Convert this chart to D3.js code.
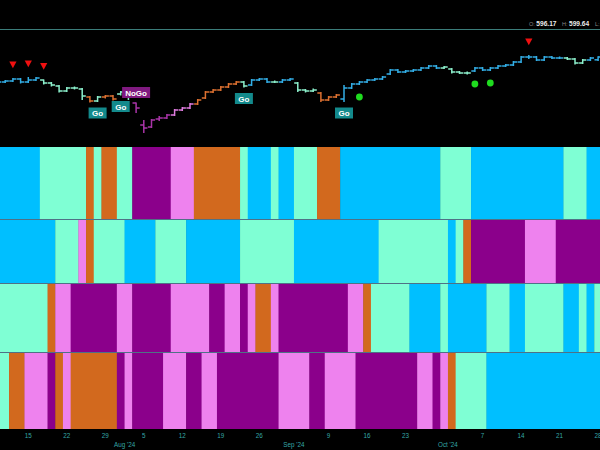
<!DOCTYPE html>
<html><head><meta charset="utf-8">
<script src="https://cdn.jsdelivr.net/npm/d3@7/dist/d3.min.js"></script>
<style>html,body{margin:0;padding:0;background:#000;overflow:hidden}svg{display:block}</style>
</head><body><svg id="c" width="600" height="450"></svg>
<script>
// ---- data ----
const dates = [
"2024-07-09","2024-07-10","2024-07-11","2024-07-12","2024-07-15","2024-07-16","2024-07-17","2024-07-18","2024-07-19",
"2024-07-22","2024-07-23","2024-07-24","2024-07-25","2024-07-26","2024-07-29","2024-07-30","2024-07-31",
"2024-08-01","2024-08-02","2024-08-05","2024-08-06","2024-08-07","2024-08-08","2024-08-09","2024-08-12","2024-08-13",
"2024-08-14","2024-08-15","2024-08-16","2024-08-19","2024-08-20","2024-08-21","2024-08-22","2024-08-23","2024-08-26",
"2024-08-27","2024-08-28","2024-08-29","2024-08-30",
"2024-09-03","2024-09-04","2024-09-05","2024-09-06","2024-09-09","2024-09-10","2024-09-11","2024-09-12","2024-09-13",
"2024-09-16","2024-09-17","2024-09-18","2024-09-19","2024-09-20","2024-09-23","2024-09-24","2024-09-25","2024-09-26",
"2024-09-27","2024-09-30",
"2024-10-01","2024-10-02","2024-10-03","2024-10-04","2024-10-07","2024-10-08","2024-10-09","2024-10-10","2024-10-11",
"2024-10-14","2024-10-15","2024-10-16","2024-10-17","2024-10-18","2024-10-21","2024-10-22","2024-10-23","2024-10-24",
"2024-10-25","2024-10-28"];

const opens = [573,574,575,577,574,576,576,573,570,565,568,567,559,555,559,560,562,565,553,531,
529,537,538,541,546,548,552,558,564,566,569,572,574,571,576,577,574,574,576,573,
566,565,563,556,559,557,568,572,574,576,577,582,586,584,585,586,588,590,588,587,
584,583,585,588,586,588,590,591,594,599,599,596,599,598,598,597,593,596,596.17];
const highs = [575.5,576,578,578,579,579,576.5,574,571,569,569.5,568,560,560,561,561,565,569,553.5,536,
537,540,542,547,549,553,557,565,567,570,573,575,575,577,578,578,575.5,577,578,574,
567,567.5,564,560,562,571,573,575,577,578,580,587,587,586,587,589,591,591,590,588,
585,584.5,589,589,589,591,592,595,600,601,600,600,600,599.5,599,598,597,599,599.64];
const lows = [572,573,574,572.5,573,575,571.5,569.5,563.5,564,566.5,556,553.5,554,557.5,555.5,560.5,556,543,523,
528,535,537,540,545,547,551,557,563,565,568,571,568.5,570,575,573,573,573,575,564,
563.5,564,554,555,558,554,567,571,573,575,576,581,583,583,584,585,587,587,587,582.5,
582,581.5,584,585,585,587,589,590,593,597,595,595,597,597,596,591.5,592,595,595];
const closes = [574,575,577,574,576,578,573,571,565,568,568,560,555,559,560,557,564,559,548,528,
536,538,541,546,548,552,556,564,566,569,572,574,570,576,577,574,574,576,577,566,
565,566,556,559,561,568,572,574,576,577,579,586,584,585,586,588,590,588,589,584,
583,583,588,586,588,590,591,594,599,599,596,599,598,598,597,593,596,598,599];

// GoNoGo states per day: B = Go (strong), A = Go (weak), O = amber, V = NoGo (weak), P = NoGo (strong)
const trendPrice = "BBBBBBAAAAAAOAOOAAPPPPPVVVOOOOOOABBBABBAAAOOOBBBBBBBBBBBBBAAAABBBBBBBBBBBBAAABB".split("");
const trendRow2  = "BBBBBBBBAAAVOAAAABBBBAAAABBBBBBBAAAAAAABBBBBBBBBBBAAAAAAAAABAOPPPPPPPVVVVPPPPPP".split("");
const trendRow3  = "AAAAAAAOVVPPPPPPVVPPPPPVVVVVPPVVPVOOVPPPPPPPPPVVOAAAAABBBBABBBBBAAABBAAAAABBABA".split("");
const trendRow4  = "AAOOVVVPOVOOOOOOPVPPPPVVVPPVVPPPPPPPPVVVVPPVVVVPPPPPPPPVVPVOAAAABBBBBBBBBBBBBBB".split("");
const bandRows = [trendPrice, trendRow2, trendRow3, trendRow4];

const sellTriangles = ["2024-07-11","2024-07-15","2024-07-17","2024-10-15"];
const buyDots = ["2024-09-13","2024-10-04","2024-10-08"];
const goLabels = ["2024-07-26","2024-07-31","2024-08-22","2024-09-11"];
const noGoLabels = ["2024-08-02"];

const dayTicks = ["2024-07-15","2024-07-22","2024-07-29","2024-08-05","2024-08-12","2024-08-19","2024-08-26",
  "2024-09-09","2024-09-16","2024-09-23","2024-10-07","2024-10-14","2024-10-21","2024-10-28"];
const monthTicks = ["2024-08-01","2024-09-03","2024-10-01"];
const monthLabels = ["Aug '24","Sep '24","Oct '24"];

const header = [["O:", "596.17"], ["H:", "599.64"], ["L:", ""]];

// ---- styles ----
const palette = {B:"#00bfff", A:"#7fffd4", O:"#d2691e", V:"#ee82ee", P:"#8b008b"};
const barPalette = {B:"#33aee6", A:"#8cf0cc", O:"#dc7030", V:"#e07ce0", P:"#aa34a8"};
const rowBounds = [147, 219.5, 283.5, 352.5, 429];
const font = "'Liberation Sans', Arial, sans-serif";

// ---- chart ----
const svg = d3.select("#c");
svg.append("rect").attr("width",600).attr("height",450).attr("fill","#000");

const x = d3.scaleBand().domain(dates).range([-6.35, 601.95]).padding(0);
const bw = x.bandwidth();
const cx = d => x(d) + bw/2;
const y = d3.scaleLinear().domain([511, 626]).range([145, 30]);
const idx = d => dates.indexOf(d);

// header
svg.append("line").attr("x1",0).attr("x2",600).attr("y1",29.5).attr("y2",29.5)
  .attr("stroke","#3b7d7a").attr("stroke-width",1);
const hx = [529, 562, 595];
header.forEach((h,i)=>{
  const t = svg.append("text").attr("x",hx[i]).attr("y",25.8).attr("font-family",font);
  t.append("tspan").attr("font-size",5.5).attr("fill","#8a8a8a").text(h[0]+" ");
  t.append("tspan").attr("font-size",6.6).attr("font-weight","bold").attr("fill","#ececec").text(h[1]);
});

// bands: merge consecutive equal states into runs
bandRows.forEach((row, r)=>{
  const runs = [];
  row.forEach((s,i)=>{
    if (runs.length && runs[runs.length-1].s === s) runs[runs.length-1].end = dates[i];
    else runs.push({s, start: dates[i], end: dates[i]});
  });
  svg.append("g").selectAll("rect").data(runs).join("rect")
    .attr("x", d => x(d.start)).attr("width", d => x(d.end) + bw - x(d.start) + 0.4)
    .attr("y", rowBounds[r]).attr("height", rowBounds[r+1] - rowBounds[r])
    .attr("fill", d => palette[d.s]);
});
rowBounds.slice(1,4).forEach(b=>{
  svg.append("line").attr("x1",0).attr("x2",600).attr("y1",b).attr("y2",b)
    .attr("stroke","#4f7186").attr("stroke-width",1);
});

// price bars
const bars = svg.append("g").attr("stroke-width",1.5).attr("fill","none");
dates.forEach((d,i)=>{
  const c = cx(d), col = barPalette[trendPrice[i]];
  bars.append("line").attr("x1",c).attr("x2",c).attr("y1",y(highs[i])).attr("y2",y(lows[i])).attr("stroke",col);
  bars.append("line").attr("x1",c-3.6).attr("x2",c).attr("y1",y(opens[i])).attr("y2",y(opens[i])).attr("stroke",col);
  bars.append("line").attr("x1",c).attr("x2",c+3.6).attr("y1",y(closes[i])).attr("y2",y(closes[i])).attr("stroke",col);
});

// sell triangles
svg.append("g").selectAll("path").data(sellTriangles).join("path")
  .attr("d", d => { const c = cx(d), t = y(highs[idx(d)]) - 16.5;
     return `M${c-3.6},${t}L${c+3.6},${t}L${c},${t+6.8}Z`; })
  .attr("fill","#f01010");

// buy dots
svg.append("g").selectAll("circle").data(buyDots).join("circle")
  .attr("cx", d => cx(d)).attr("cy", d => y(lows[idx(d)]) + 12)
  .attr("r", 3.4).attr("fill","#1fdc1f");

// Go / NoGo labels
const lab = (list, txt, w, fill, above) => {
  const g = svg.append("g").selectAll("g").data(list).join("g")
    .attr("transform", d => {
      const i = idx(d);
      const cy = above ? y(highs[i]) - 10 : y(lows[i]) + 11;
      return `translate(${cx(d)},${cy})`;
    });
  g.append("rect").attr("x",-w/2).attr("y",-5.5).attr("width",w).attr("height",11).attr("fill",fill);
  g.append("text").attr("text-anchor","middle").attr("y",3).attr("font-family",font)
    .attr("font-size",8).attr("font-weight","bold").attr("fill","#ffffff").text(txt);
};
lab(goLabels, "Go", 18, "#138a8c", false);
lab(noGoLabels, "NoGo", 28, "#801a80", true);

// axes
const dayAxis = d3.axisBottom(x).tickValues(dayTicks).tickSize(0).tickPadding(5)
  .tickFormat(d => String(+d.slice(8)));
const ga = svg.append("g").attr("transform","translate(0,429)").call(dayAxis);
const monthAxis = d3.axisBottom(x).tickValues(monthTicks).tickSize(0).tickPadding(13.5)
  .tickFormat(d => monthLabels[monthTicks.indexOf(d)]);
const gm = svg.append("g").attr("transform",`translate(${-bw/2},429)`).call(monthAxis);
[ga, gm].forEach(g=>{
  g.select(".domain").remove();
  g.selectAll("text").attr("fill","#35a6a6").attr("font-size",6.3).attr("font-family",font);
});
</script>
</body></html>
